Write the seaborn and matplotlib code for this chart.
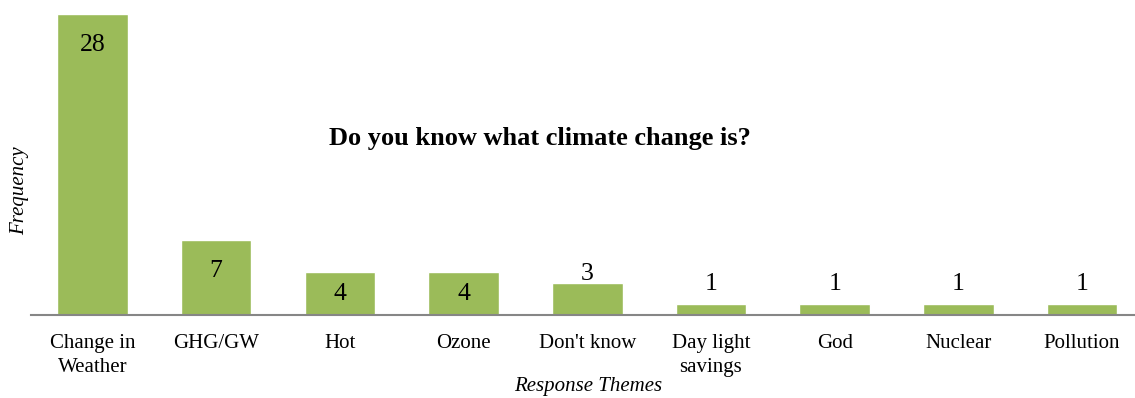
import matplotlib
matplotlib.use("Agg")
import matplotlib.pyplot as plt
import seaborn as sns
import pandas as pd

categories = ["Change in\nWeather", "GHG/GW", "Hot", "Ozone", "Don't know",
              "Day light\nsavings", "God", "Nuclear", "Pollution"]
values = [28, 7, 4, 4, 3, 1, 1, 1, 1]
inside = [True, True, True, True, False, False, False, False, False]

sns.set_theme(style="white")
plt.rcParams['font.family'] = ['Liberation Serif', 'DejaVu Serif']
plt.rcParams['text.color'] = 'black'
plt.rcParams['xtick.color'] = 'black'

W, H = 1135, 398
fig = plt.figure(figsize=(W / 100, H / 100), dpi=100)
left, right, bottom, top = 30.6, 1143.9, H - 315, H - 0
ax = fig.add_axes([left / W, bottom / H, (right - left) / W, (top - bottom) / H])

df = pd.DataFrame({"cat": categories, "val": values})
sns.barplot(data=df, x="cat", y="val", color="#9BBB59", saturation=1,
            width=0.57, ax=ax)

ax.set_ylim(0, 29.3)
ax.set_xlim(-0.5, len(categories) - 0.5)
for s in ["top", "right", "left"]:
    ax.spines[s].set_visible(False)
ax.spines["bottom"].set_color("#868686")
ax.spines["bottom"].set_linewidth(1.5)
ax.set_yticks([])
ax.tick_params(axis="x", length=0, pad=14, labelsize=15, labelcolor="black")
for lbl in ax.get_xticklabels():
    lbl.set_linespacing(1.3)
ax.set_xlabel("")
ax.set_ylabel("")

for i, (v, ins) in enumerate(zip(values, inside)):
    if ins:
        y = max(v - 2.65, v / 2 + 0.2)
    else:
        y = max(v + 1.05, 3.12)
    ax.annotate(str(v), (i, y), xytext=(0, -3), textcoords="offset pixels",
                ha="center", va="center", fontsize=18.5, color="black")

fig.text(540 / W, 1 - 138 / H, "Do you know what climate change is?",
         ha="center", va="center", fontsize=19, fontweight="bold")
fig.text(588 / W, 1 - 387 / H, "Response Themes", ha="center", va="center",
         fontsize=15, style="italic")
fig.text(20 / W, 1 - 191 / H, "Frequency", ha="center", va="center",
         fontsize=15, style="italic", rotation=90)

fig.savefig("out.png", dpi=100)
